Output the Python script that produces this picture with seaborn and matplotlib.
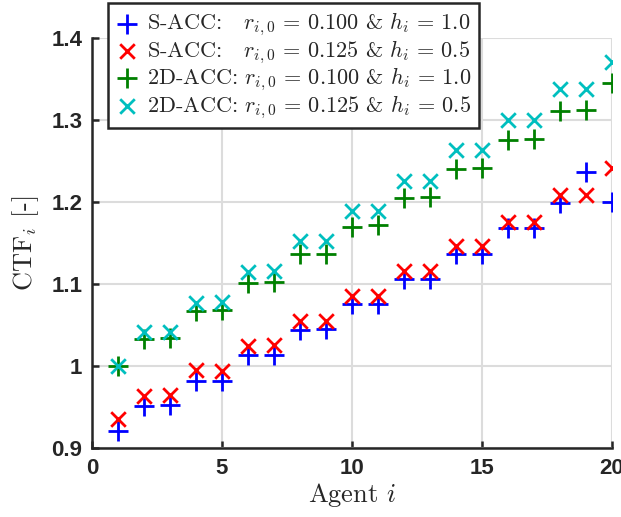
import matplotlib
matplotlib.use("Agg")
import matplotlib.pyplot as plt
import seaborn as sns
import numpy as np

agents = list(range(1, 21))
s_acc_1 = [0.921, 0.951, 0.952, 0.982, 0.982, 1.013, 1.013, 1.044, 1.045, 1.075,
           1.075, 1.106, 1.106, 1.137, 1.137, 1.168, 1.168, 1.199, 1.237, 1.200]
s_acc_2 = [0.935, 0.964, 0.965, 0.995, 0.994, 1.024, 1.025, 1.055, 1.055, 1.085,
           1.085, 1.116, 1.116, 1.146, 1.146, 1.176, 1.176, 1.208, 1.209, 1.241]
d2_acc_1 = [1.000, 1.033, 1.034, 1.067, 1.068, 1.101, 1.103, 1.136, 1.137, 1.170,
            1.172, 1.205, 1.206, 1.240, 1.242, 1.275, 1.277, 1.311, 1.312, 1.345]
d2_acc_2 = [1.000, 1.041, 1.041, 1.077, 1.078, 1.115, 1.116, 1.152, 1.152, 1.189,
            1.189, 1.226, 1.226, 1.263, 1.264, 1.300, 1.300, 1.338, 1.338, 1.371]
labels = [r"S-ACC:   $r_{i,0}\,=\,0.100$ & $h_i\,=\,1.0$",
          r"S-ACC:   $r_{i,0}\,=\,0.125$ & $h_i\,=\,0.5$",
          r"2D-ACC: $r_{i,0}\,=\,0.100$ & $h_i\,=\,1.0$",
          r"2D-ACC: $r_{i,0}\,=\,0.125$ & $h_i\,=\,0.5$"]
xticks = [0, 5, 10, 15, 20]
yticks = [0.9, 1.0, 1.1, 1.2, 1.3, 1.4]
ytick_labels = ["0.9", "1", "1.1", "1.2", "1.3", "1.4"]

sns.set_style("white")
plt.rcParams["mathtext.fontset"] = "cm"
plt.rcParams["axes.unicode_minus"] = False

fig = plt.figure(figsize=(6.21, 5.17), dpi=100)
ax = fig.add_axes([0.148, 0.1335, 0.8375, 0.793])

series = [(s_acc_1, "+", (0, 0, 1), 196),
          (s_acc_2, "x", (1, 0, 0), 110),
          (d2_acc_1, "+", (0, 0.5, 0), 196),
          (d2_acc_2, "x", (0, 0.75, 0.75), 110)]
for (vals, mk, col, s), lab in zip(series, labels):
    sns.scatterplot(x=agents, y=vals, marker=mk, color=col, s=s, linewidth=2.0,
                    label=lab, ax=ax, zorder=3)

ax.set_xlim(0, 20)
ax.set_ylim(0.9, 1.4)
ax.set_xticks(xticks)
ax.set_xticklabels([str(t) for t in xticks])
ax.set_yticks(yticks)
ax.set_yticklabels(ytick_labels)
for lab in ax.get_xticklabels() + ax.get_yticklabels():
    lab.set_fontfamily("Liberation Sans")
    lab.set_fontweight("bold")
    lab.set_fontsize(16)
    lab.set_color("#262626")

ax.grid(True, color="#dcdcdc", linewidth=1.5, zorder=0)
ax.set_axisbelow(True)
for sp in ["top", "right"]:
    ax.spines[sp].set_visible(False)
for sp in ["left", "bottom"]:
    ax.spines[sp].set_color("#262626")
    ax.spines[sp].set_linewidth(1.8)
ax.tick_params(axis="both", direction="in", length=5, width=1.8, color="#262626",
               bottom=True, left=True, pad=7)

ax.set_xlabel("Agent $i$", fontfamily="cmr10", fontsize=19, labelpad=2)
ax.set_ylabel(r"CTF$_i$ [-]", fontfamily="cmr10", fontsize=19, labelpad=7)

leg = ax.legend(loc="upper left", bbox_to_anchor=(0.174, 0.994),
                bbox_transform=fig.transFigure, frameon=True, fancybox=False,
                edgecolor="#262626", framealpha=1.0, handlelength=1.0,
                handletextpad=0.4, borderpad=0.35, labelspacing=0.0,
                borderaxespad=0.0,
                prop={"family": "cmr10", "size": 16})
leg.get_frame().set_linewidth(1.8)
leg.set_zorder(5)

fig.savefig("out.png", dpi=100)
